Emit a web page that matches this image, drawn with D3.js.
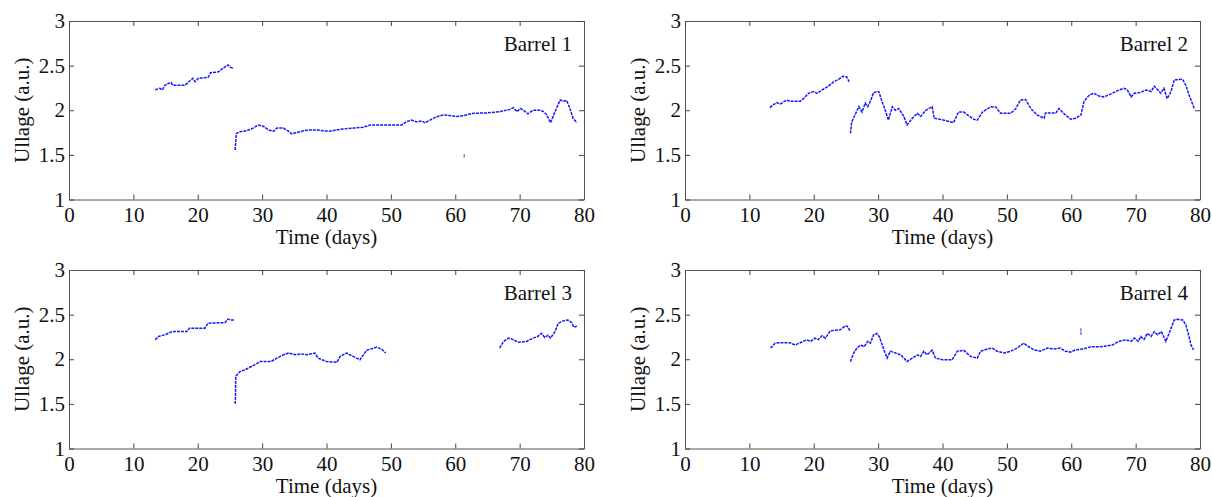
<!DOCTYPE html>
<html>
<head>
<meta charset="utf-8">
<script src="https://cdn.jsdelivr.net/npm/d3@7"></script>
<style>
  body { margin: 0; background: #fff; }
  svg { display: block; }
  .tick text { font-family: "Liberation Serif", "Times New Roman", serif; font-size: 21px; fill: #111; }
  .lbl { font-family: "Liberation Serif", "Times New Roman", serif; font-size: 21px; fill: #111; }
</style>
</head>
<body>
<div id="chart"></div>
<script>
const FRAME_WIDTH = 1212;
const FRAME_HEIGHT = 497;
const PANEL_W = 515;
const PANEL_H = 178.5;
const PANEL_X = [69, 685];
const PANEL_Y = [21, 270];

const X_TICKS = [0, 10, 20, 30, 40, 50, 60, 70, 80];
const Y_TICKS = [1, 1.5, 2, 2.5, 3];
const BARREL_NAMES = ["Barrel 1", "Barrel 2", "Barrel 3", "Barrel 4"];

// [day, ullage], one array per unbroken run
const B1_RUN1 = [[13.4,2.23],[14.1,2.245],[14.5,2.227],[14.9,2.28],[15.4,2.30],[15.9,2.31],[16.1,2.28],[18.0,2.28],[18.8,2.33],[19.2,2.358],[19.6,2.32],[20.1,2.358],[21.6,2.369],[22.0,2.42],[23.2,2.43],[23.9,2.47],[24.7,2.507],[25.1,2.48],[25.6,2.47]];
const B1_RUN2 = [[25.8,1.555],[26.0,1.74],[26.6,1.76],[27.6,1.77],[28.6,1.80],[29.4,1.835],[30.2,1.82],[31.0,1.78],[31.8,1.765],[32.3,1.80],[33.3,1.80],[34.1,1.765],[34.6,1.734],[35.4,1.75],[36.4,1.77],[37.4,1.78],[38.5,1.78],[39.5,1.77],[40.5,1.765],[41.6,1.78],[42.6,1.79],[44.2,1.80],[45.7,1.81],[46.8,1.835],[51.7,1.835],[52.4,1.87],[53.2,1.89],[54.0,1.87],[54.8,1.88],[55.3,1.86],[56.1,1.89],[57.1,1.928],[58.1,1.947],[59.2,1.94],[60.2,1.93],[61.3,1.94],[62.8,1.966],[64.9,1.97],[67.0,1.985],[68.5,2.01],[69.0,2.03],[69.6,1.985],[70.1,2.02],[70.6,2.0],[71.3,1.96],[72.1,2.0],[73.2,2.0],[73.7,1.985],[74.2,1.95],[74.8,1.86],[75.5,1.985],[76.3,2.115],[76.8,2.10],[77.3,2.11],[77.8,2.02],[78.3,1.91],[78.9,1.86]];
const B1_STRAY = [[61.4,1.49]];

const B2_RUN1 = [[13.2,2.03],[13.7,2.06],[14.2,2.085],[14.8,2.07],[15.8,2.115],[16.3,2.10],[17.9,2.10],[18.4,2.13],[19.2,2.19],[20.0,2.21],[20.5,2.19],[21.3,2.227],[22.3,2.27],[23.1,2.32],[23.9,2.347],[24.5,2.38],[25.1,2.375],[25.5,2.32]];
const B2_RUN2 = [[25.7,1.74],[25.9,1.87],[26.4,1.947],[27.0,2.04],[27.5,1.98],[28.0,2.08],[28.4,2.04],[28.8,2.10],[29.3,2.20],[30.1,2.21],[30.6,2.10],[31.1,2.0],[31.6,1.89],[32.2,2.04],[32.7,2.0],[33.2,2.02],[34.0,1.93],[34.5,1.835],[35.3,1.91],[36.1,1.966],[36.6,1.93],[37.4,2.0],[38.4,2.04],[38.7,1.91],[39.5,1.90],[40.7,1.88],[41.7,1.86],[42.5,1.98],[43.3,1.98],[44.8,1.90],[45.4,1.89],[46.2,1.98],[47.5,2.04],[48.3,2.035],[49.0,1.966],[50.6,1.966],[51.4,2.02],[52.1,2.115],[52.9,2.12],[53.7,2.02],[54.7,1.947],[55.8,1.91],[56.0,1.97],[57.6,1.97],[58.1,2.02],[58.6,1.98],[59.1,1.947],[59.9,1.90],[60.7,1.91],[61.5,1.947],[62.0,2.10],[62.8,2.17],[63.5,2.19],[64.3,2.16],[65.1,2.15],[66.1,2.18],[67.2,2.22],[68.2,2.246],[68.7,2.23],[69.3,2.15],[69.8,2.19],[70.8,2.20],[71.6,2.227],[72.4,2.21],[72.9,2.27],[73.4,2.23],[73.9,2.19],[74.4,2.246],[74.9,2.13],[75.5,2.21],[76.0,2.34],[77.3,2.347],[77.8,2.28],[78.3,2.17],[78.9,2.06],[79.1,2.02]];

const B3_RUN1 = [[13.4,2.218],[13.9,2.255],[14.9,2.274],[16.0,2.31],[18.3,2.31],[18.7,2.348],[21.1,2.348],[21.6,2.404],[24.2,2.41],[24.7,2.45],[25.1,2.44],[25.6,2.44]];
const B3_RUN2 = [[25.8,1.5],[25.85,1.566],[25.9,1.81],[26.6,1.864],[27.3,1.88],[28.1,1.91],[28.9,1.94],[29.7,1.975],[30.7,1.975],[31.4,1.975],[32.3,2.013],[33.3,2.05],[34.1,2.07],[35.1,2.05],[36.1,2.06],[36.9,2.05],[38.2,2.07],[38.7,2.013],[39.3,1.994],[40.0,1.975],[41.6,1.965],[42.1,2.03],[43.1,2.07],[44.2,2.03],[45.2,1.994],[46.2,2.10],[47.8,2.136],[48.6,2.11],[49.2,2.07]];
const B3_RUN3 = [[66.9,2.125],[67.5,2.2],[68.3,2.237],[69.0,2.22],[69.8,2.19],[71.1,2.2],[72.1,2.237],[72.8,2.255],[73.4,2.29],[73.9,2.245],[74.4,2.27],[74.8,2.237],[75.5,2.31],[76.0,2.404],[76.8,2.43],[77.5,2.44],[78.1,2.41],[78.4,2.36],[78.9,2.37]];

const B4_RUN1 = [[13.3,2.125],[14.0,2.18],[14.8,2.185],[16.3,2.185],[17.1,2.16],[17.9,2.185],[18.9,2.218],[19.5,2.2],[20.2,2.237],[20.7,2.22],[21.3,2.263],[21.8,2.237],[22.6,2.32],[24.1,2.33],[24.9,2.374],[25.2,2.37],[25.6,2.32]];
const B4_RUN2 = [[25.7,1.975],[26.2,2.07],[26.7,2.125],[27.3,2.16],[27.8,2.14],[28.4,2.2],[28.8,2.18],[29.3,2.274],[29.8,2.29],[30.2,2.25],[30.9,2.106],[31.4,2.013],[31.9,2.09],[32.7,2.07],[33.5,2.05],[34.5,1.975],[35.3,2.013],[36.1,2.05],[36.6,2.03],[37.1,2.09],[37.6,2.05],[38.4,2.10],[38.9,2.013],[40.0,1.994],[41.5,1.994],[42.3,2.09],[43.3,2.10],[44.4,2.03],[45.4,2.013],[45.9,2.09],[47.0,2.115],[47.7,2.125],[48.5,2.09],[49.5,2.07],[50.6,2.09],[51.6,2.125],[52.6,2.18],[53.4,2.14],[54.2,2.106],[55.2,2.09],[56.3,2.125],[57.3,2.115],[58.3,2.125],[59.1,2.09],[59.9,2.08],[60.7,2.106],[61.9,2.115],[63.0,2.14],[64.3,2.14],[65.1,2.145],[66.4,2.16],[67.4,2.2],[68.5,2.218],[69.3,2.2],[69.8,2.237],[70.4,2.2],[70.8,2.255],[71.3,2.22],[71.8,2.29],[72.4,2.255],[72.9,2.31],[73.4,2.274],[74.0,2.31],[74.7,2.2],[75.2,2.29],[76.0,2.44],[76.5,2.447],[77.3,2.44],[77.8,2.386],[78.3,2.255],[78.6,2.16],[79.0,2.106]];
const B4_STRAY = [[61.5,2.29],[61.5,2.33]];

const PANELS = [
  {name: BARREL_NAMES[0], col: 0, row: 0, runs: [B1_RUN1, B1_RUN2], stray: B1_STRAY},
  {name: BARREL_NAMES[1], col: 1, row: 0, runs: [B2_RUN1, B2_RUN2], stray: []},
  {name: BARREL_NAMES[2], col: 0, row: 1, runs: [B3_RUN1, B3_RUN2, B3_RUN3], stray: []},
  {name: BARREL_NAMES[3], col: 1, row: 1, runs: [B4_RUN1, B4_RUN2], stray: B4_STRAY}
];

const FRAME = d3.select("#chart")
                .append("svg")
                  .attr("width", FRAME_WIDTH)
                  .attr("height", FRAME_HEIGHT);

const X_SCALE = d3.scaleLinear().domain([0, 80]).range([0, PANEL_W]);
const Y_SCALE = d3.scaleLinear().domain([1, 3]).range([PANEL_H, 0]);

const line = d3.line()
               .x((d) => X_SCALE(d[0]))
               .y((d) => Y_SCALE(d[1]));

PANELS.forEach((p) => {
  const g = FRAME.append("g")
                 .attr("transform", "translate(" + PANEL_X[p.col] + "," + PANEL_Y[p.row] + ")");

  // data first so the frame sits on top
  g.selectAll(".run")
    .data(p.runs)
    .enter()
    .append("path")
      .attr("class", "run")
      .attr("d", line)
      .attr("fill", "none")
      .attr("stroke", "#1515ff")
      .attr("stroke-width", 1.5)
      .attr("stroke-dasharray", "3 1");

  // odd single readings
  g.selectAll(".stray")
    .data(p.stray)
    .enter()
    .append("rect")
      .attr("class", "stray")
      .attr("x", (d) => X_SCALE(d[0]) - 0.75)
      .attr("y", (d) => Y_SCALE(d[1]) - 1.5)
      .attr("width", 1.5)
      .attr("height", 3)
      .attr("fill", "#7070ff");

  // bottom axis
  g.append("g")
    .attr("transform", "translate(0," + PANEL_H + ")")
    .call(d3.axisBottom(X_SCALE).tickValues(X_TICKS).tickSize(-5).tickSizeOuter(0).tickPadding(8));

  // left axis
  g.append("g")
    .call(d3.axisLeft(Y_SCALE).tickValues(Y_TICKS).tickSize(-5).tickSizeOuter(0).tickPadding(4)
           .tickFormat(d3.format("")));

  // top and right box edges
  g.append("g")
    .call(d3.axisTop(X_SCALE).tickValues(X_TICKS).tickSize(-5).tickSizeOuter(0).tickFormat(""));
  g.append("g")
    .attr("transform", "translate(" + PANEL_W + ",0)")
    .call(d3.axisRight(Y_SCALE).tickValues(Y_TICKS).tickSize(-5).tickSizeOuter(0).tickFormat(""));

  g.selectAll(".domain").attr("stroke", "#555");
  g.selectAll(".tick line").attr("stroke", "#444");

  g.append("text")
    .attr("class", "lbl")
    .attr("x", PANEL_W / 2)
    .attr("y", PANEL_H + 44.5)
    .attr("text-anchor", "middle")
    .text("Time (days)");

  g.append("text")
    .attr("class", "lbl")
    .attr("transform", "translate(-40," + (PANEL_H / 2) + ") rotate(-90)")
    .attr("text-anchor", "middle")
    .text("Ullage (a.u.)");

  g.append("text")
    .attr("class", "lbl")
    .attr("x", PANEL_W - 12)
    .attr("y", 30)
    .attr("text-anchor", "end")
    .text(p.name);
});
</script>
</body>
</html>
